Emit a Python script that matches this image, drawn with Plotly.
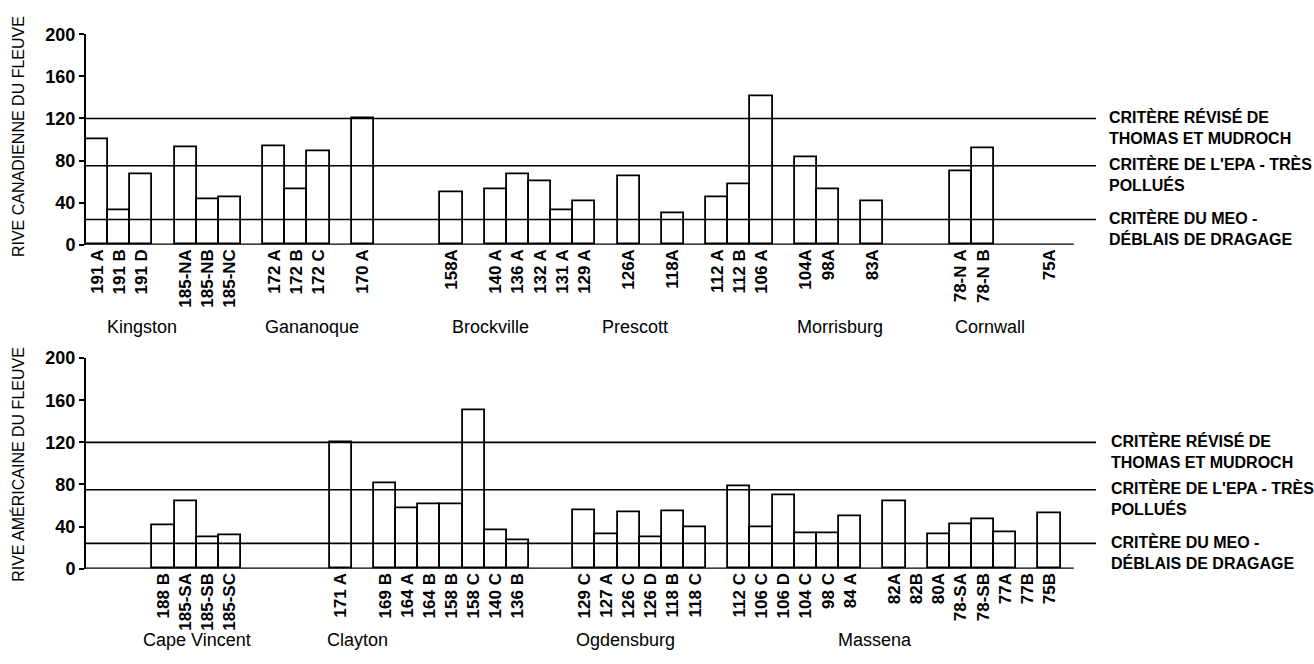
import plotly.graph_objects as go

# ---------------- data ----------------
can_sites = ["191 A", "191 B", "191 D", None, "185-NA", "185-NB", "185-NC", None,
             "172 A", "172 B", "172 C", None, "170 A", None, None, None, "158A", None,
             "140 A", "136 A", "132 A", "131 A", "129 A", None, "126A", None, "118A", None,
             "112 A", "112 B", "106 A", None, "104A", "98A", None, "83A", None, None, None,
             "78-N A", "78-N B", None, None, "75A"]
can_values = [100, 32.5, 67, None, 92.5, 43.5, 45.5, None,
              93.5, 52.5, 88.5, None, 120, None, None, None, 49.5, None,
              53, 67, 60, 33, 41, None, 65, None, 29.5, None,
              45.5, 57.5, 141.5, None, 83, 52.5, None, 41, None, None, None,
              70, 91.5, None, None, None]

us_sites = [None, None, None, "188 B", "185-SA", "185-SB", "185-SC", None, None, None, None,
            "171 A", None, "169 B", "164 A", "164 B", "158 B", "158 C", "140 C", "136 B",
            None, None, "129 C", "127 A", "126 C", "126 D", "118 B", "118 C", None,
            "112 C", "106 C", "106 D", "104 C", "98 C", "84 A", None,
            "82A", "82B", "80A", "78-SA", "78-SB", "77A", "77B", "75B"]
us_values = [None, None, None, 41.5, 64.5, 29.5, 32, None, None, None, None,
             120, None, 81, 57, 61, 61, 151, 37, 27.5,
             None, None, 56, 33, 54, 29.5, 54.5, 39.5, None,
             78, 39, 70, 34, 34, 50, None,
             64, None, 32.5, 42, 47, 35, None, 52.5]

can_towns = ["Kingston", "Gananoque", "Brockville", "Prescott", "Morrisburg", "Cornwall"]
us_towns = ["Cape Vincent", "Clayton", "Ogdensburg", "Massena"]

crit_values = [120, 75, 24]
crit_labels = ["CRITÈRE RÉVISÉ DE<br>THOMAS ET MUDROCH",
               "CRITÈRE DE L'EPA - TRÈS<br>POLLUÉS",
               "CRITÈRE DU MEO -<br>DÉBLAIS DE DRAGAGE"]

y_ticks = [0, 40, 80, 120, 160, 200]
y_titles = ["RIVE CANADIENNE DU FLEUVE", "RIVE AMÉRICAINE DU FLEUVE"]

# ---------------- layout helpers ----------------
W, H = 1314, 664
ML, MR = 86, 218
PW = W - ML - MR


def pxx(x):
    return (x - ML) / PW


def pxy(y):
    return 1 - y / H


FONT = "Liberation Sans, Arial, Helvetica, sans-serif"
XR = [-0.5, 45.1]
BASE_END = 44.1

fig = go.Figure()

panels = [
    (can_sites, can_values, "x", "y", [pxy(242), pxy(25)], can_towns,
     [142, 312, 490, 635, 840, 990], 327, 131, 1107),
    (us_sites, us_values, "x2", "y2", [pxy(576), pxy(359)], us_towns,
     [197, 357, 625, 875], 650, 469, 1109),
]

annotations = []
shapes = []
for i, (sites, vals, xa, ya, ydom, towns, town_x, town_y, title_y, crit_x) in enumerate(panels):
    xs = list(range(len(sites)))
    fig.add_trace(go.Bar(
        x=xs, y=vals, width=1, xaxis=xa, yaxis=ya,
        marker=dict(color="white", line=dict(color="black", width=1.8)),
        showlegend=False, hoverinfo="skip",
    ))
    tv = [k for k, s in enumerate(sites) if s]
    tt = [s for s in sites if s]
    sfx = "" if i == 0 else "2"
    fig.layout["xaxis" + sfx] = dict(
        domain=[0, 1], anchor=ya, range=XR, tickvals=tv, ticktext=tt,
        tickangle=-90, showline=False, showgrid=False, zeroline=False,
        ticks="", tickfont=dict(size=17, color="black", family=FONT, weight="bold"),
    )
    fig.layout["yaxis" + sfx] = dict(
        domain=ydom, anchor=xa, range=[0, 200], tickvals=y_ticks,
        showline=True, linecolor="black", linewidth=2, ticks="outside",
        ticklen=5, tickwidth=1.5, tickcolor="black", showgrid=False,
        zeroline=False, tickfont=dict(size=18, color="black", family=FONT, weight="bold"),
    )
    # baseline
    shapes.append(dict(type="line", xref=xa, yref=ya, x0=XR[0], x1=BASE_END, y0=0, y1=0,
                       line=dict(color="black", width=2.2), layer="above"))
    # criteria lines + labels
    for v, lab in zip(crit_values, crit_labels):
        shapes.append(dict(type="line", xref=xa, yref=ya, x0=XR[0], x1=XR[1], y0=v, y1=v,
                           line=dict(color="black", width=1.6), layer="above"))
        annotations.append(dict(xref="paper", yref=ya, x=pxx(crit_x), y=v, yshift=-9,
                                xanchor="left", yanchor="middle", align="left",
                                text=lab, showarrow=False,
                                font=dict(size=16, color="black", family=FONT, weight="bold")))
    # towns
    for t, tx in zip(towns, town_x):
        annotations.append(dict(xref="paper", yref="paper", x=pxx(tx), y=pxy(town_y),
                                xanchor="center", yanchor="middle", text=t, showarrow=False,
                                font=dict(size=18, color="black", family=FONT)))
    # y title
    annotations.append(dict(xref="paper", yref="paper", x=pxx(18), y=pxy(title_y),
                            xanchor="center", yanchor="middle", textangle=-90,
                            text=y_titles[i], showarrow=False,
                            font=dict(size=16, color="black", family=FONT)))

fig.update_layout(
    width=W, height=H, margin=dict(l=ML, r=MR, t=0, b=0),
    paper_bgcolor="white", plot_bgcolor="white",
    bargap=0, shapes=shapes, annotations=annotations,
    font=dict(family=FONT, color="black"),
)

fig.write_html("out.html")
